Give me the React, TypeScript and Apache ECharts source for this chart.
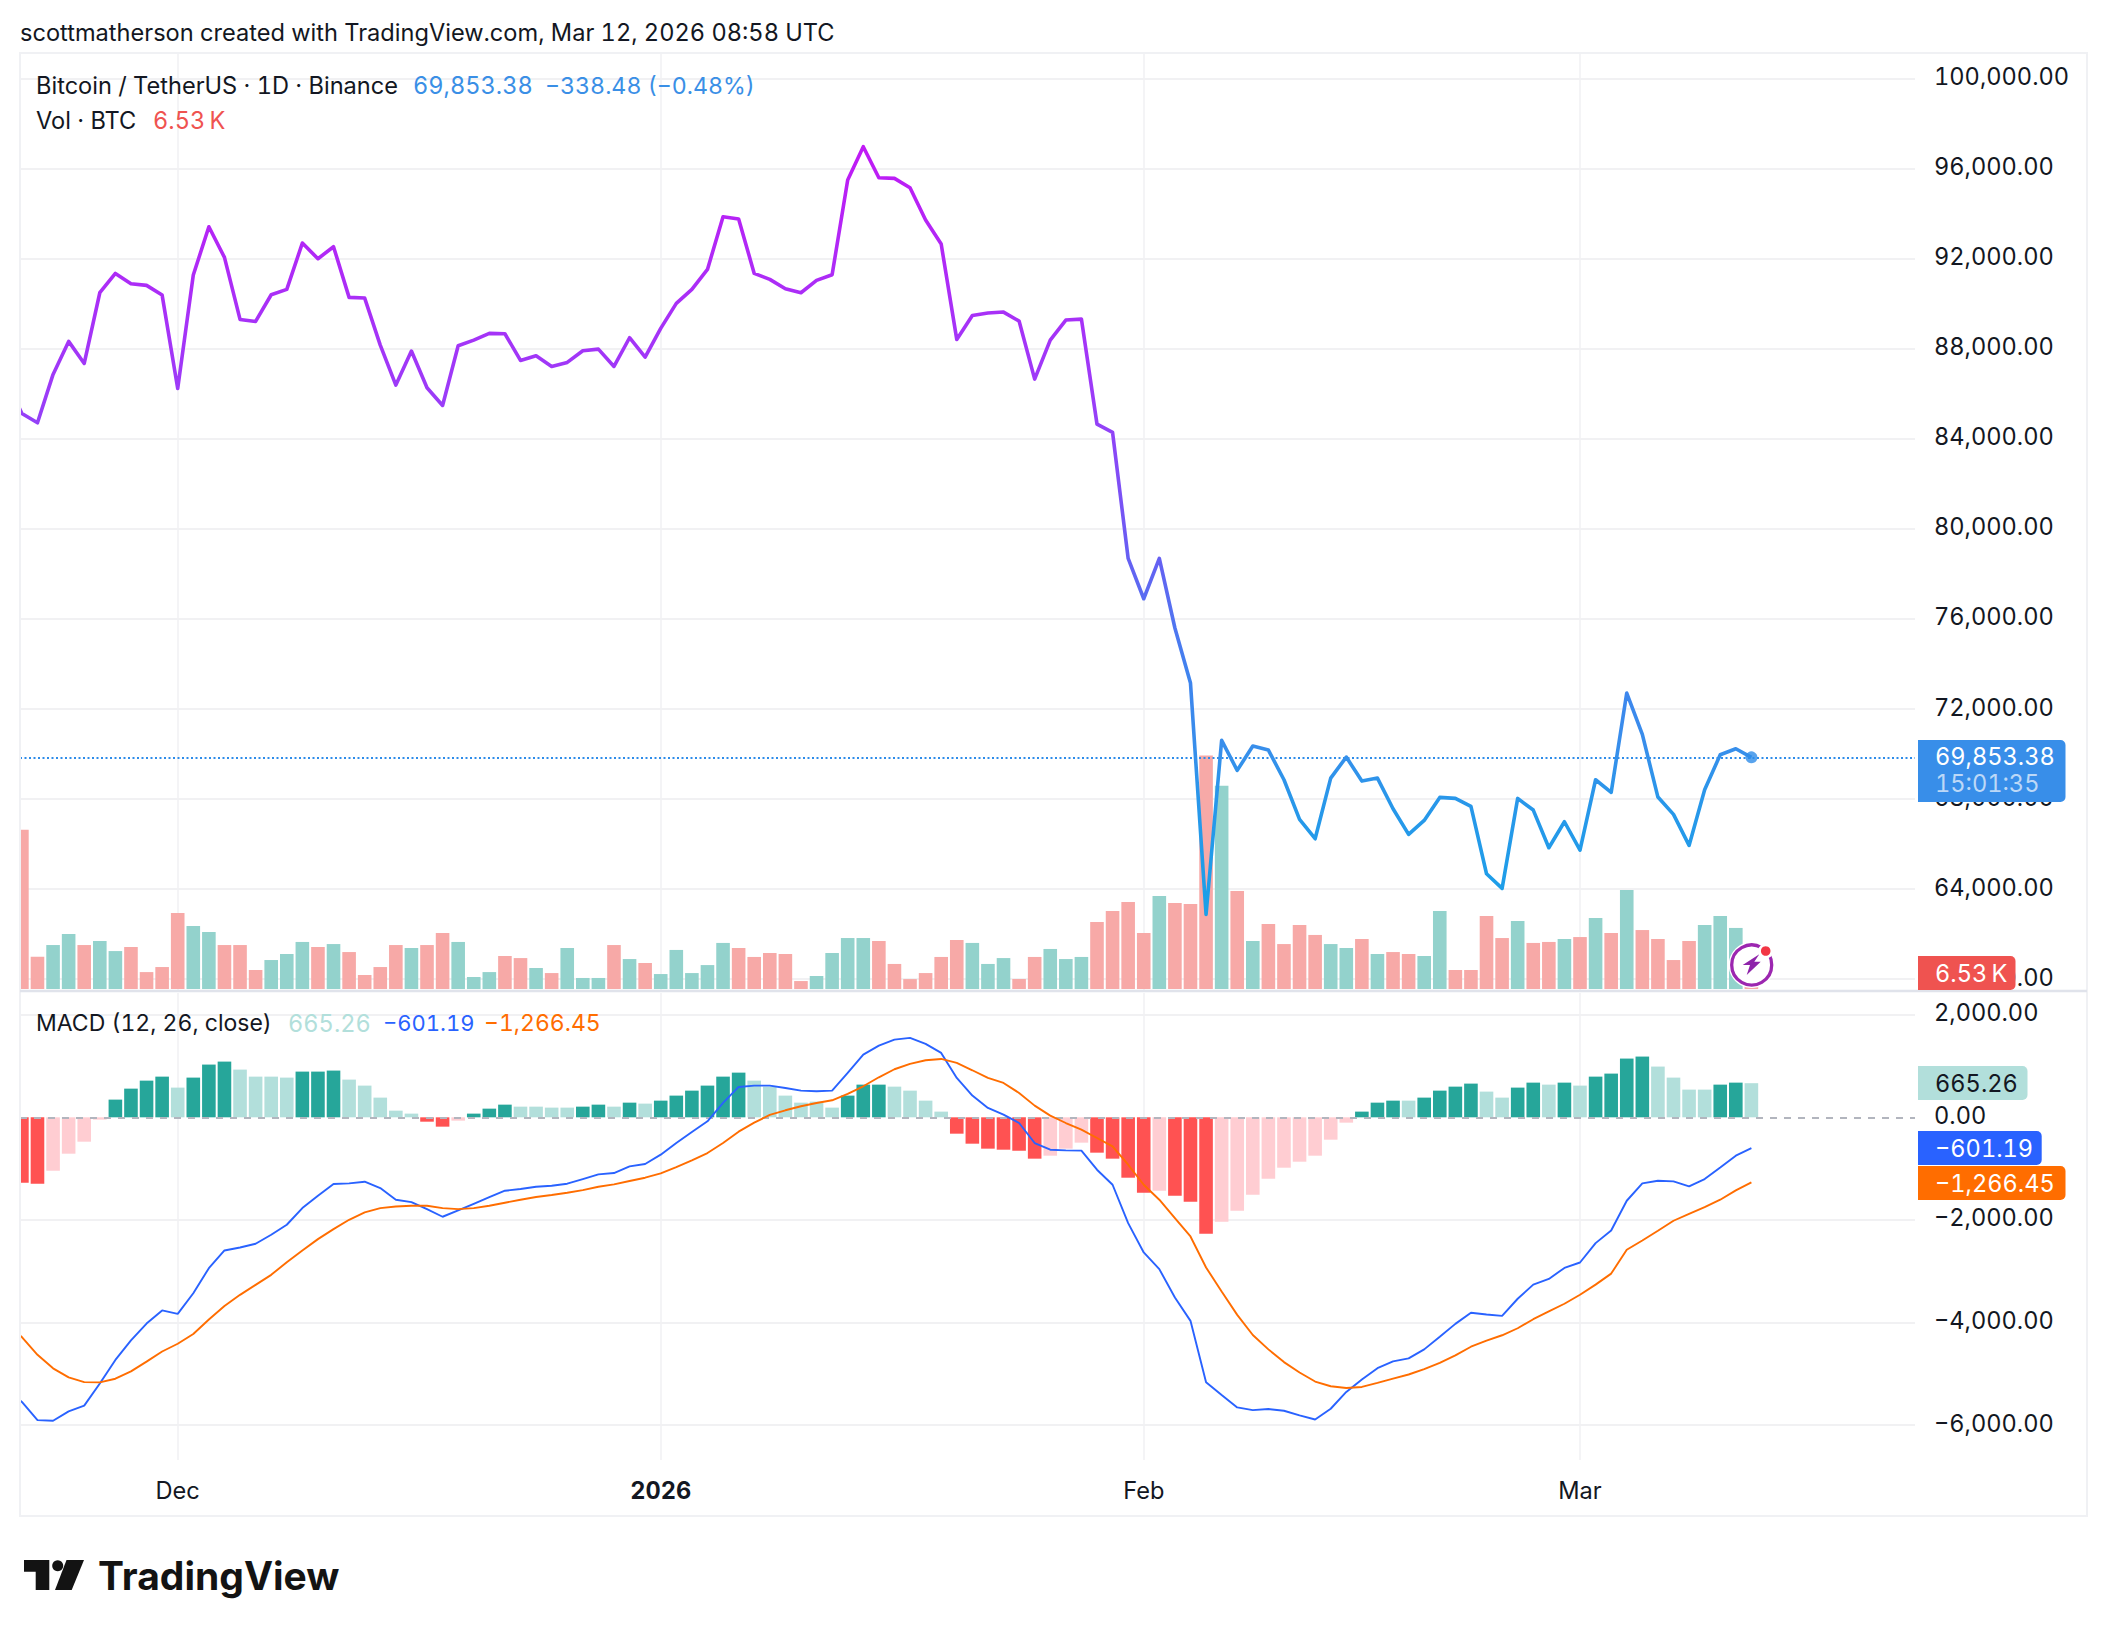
import React, { useEffect, useRef } from "react";
import * as echarts from "echarts";

const headerTitle = "scottmatherson created with TradingView.com, Mar 12, 2026 08:58 UTC";
const xTickDays = [10, 41, 72, 100];
const xTickLabels = ["Dec", "2026", "Feb", "Mar"];
const priceTicks = [60000, 64000, 68000, 72000, 76000, 80000, 84000, 88000, 92000, 96000, 100000];
const macdTicks = [-6000, -4000, -2000, 0, 2000];

// The values of the day just before the visible window (the lines enter from the left edge).
const leadInClose = 86600;
const leadInMacd = -5300;
const leadInSignal = -4050;

const closes = [85131,84716,86864,88330,87352,90492,91351,90892,90818,90388,86241,91277,93424,92062,89307,89218,90403,90640,92698,92003,92536,90285,90255,88167,86390,87901,86271,85486,88137,88389,88685,88670,87486,87693,87219,87397,87915,87989,87219,88493,87634,88907,90018,90640,91529,93869,93765,91351,91085,90670,90492,91040,91292,95498,96979,95601,95572,95157,93720,92654,88419,89485,89589,89633,89233,86656,88389,89278,89322,84656,84286,78690,76900,78690,75600,73155,62877,70608,69275,70356,70178,68860,67098,66239,68934,69867,68801,68934,67572,66431,67053,68075,68031,67676,64684,64032,68031,67513,65839,66994,65735,68860,68297,72711,70874,68090,67320,65943,68416,69971,70238,69853.38];

const volumes = [113.6,23.1,31.4,39.3,31.4,34.3,27.1,30,12.1,15.7,54.3,45,40.7,31.4,31.4,13.6,20.7,25,33.6,30,32.1,26.4,10,15.7,31.4,29.3,31.4,40,33.6,8.6,12.1,23.6,22.1,15,11.4,29.3,7.9,7.9,31.4,21.4,18.6,10.7,27.9,11.4,17.1,32.9,29.3,22.9,25.7,25,5.7,9.3,25.7,36.4,36.4,34.3,17.9,7.1,11.4,22.9,35,32.9,17.9,22.1,7.1,22.9,28.6,21.4,22.9,47.9,55.7,62.1,40,66.4,61.4,60.7,166.7,145,70,34.3,46.4,32.1,45.7,38.6,32.1,29.3,35.7,25,26.4,25,23.6,55.7,13.6,13.6,52.1,36.4,48.6,32.9,33.6,35.7,37.1,50.7,40,70.7,42.1,35.7,20.7,34.3,45.7,52.1,43.6,6.53];
const volumeUp = [0,0,1,1,0,1,1,0,0,0,0,1,1,0,0,0,1,1,1,0,1,0,0,0,0,1,0,0,1,1,1,0,0,1,0,1,1,1,0,1,0,1,1,1,1,1,0,0,0,0,0,1,1,1,1,0,0,0,0,0,0,1,1,1,0,0,1,1,1,0,0,0,0,1,0,0,0,1,0,1,0,0,0,0,1,1,0,1,0,0,1,1,0,0,0,0,1,0,0,1,0,1,0,1,0,0,0,0,1,1,1,0];

const histogram = [-1275,-1294,-1041,-709,-475,-45,345,559,715,793,579,774,1028,1086,930,793,793,774,891,891,911,735,618,384,130,72,-85,-182,-65,72,169,247,208,208,189,189,208,247,208,286,267,325,423,520,618,793,871,715,598,423,286,306,189,423,637,637,598,520,325,111,-319,-514,-611,-631,-650,-806,-748,-611,-494,-689,-806,-1177,-1470,-1431,-1528,-1645,-2270,-2036,-1821,-1509,-1197,-982,-865,-748,-436,-104,111,286,325,325,384,520,598,657,501,384,579,676,637,676,618,793,852,1145,1184,989,774,540,540,637,676,665.26];
const histogramStrong = [1,1,0,0,0,0,1,1,1,1,0,1,1,1,0,0,0,0,1,1,1,0,0,0,0,0,1,1,0,1,1,1,0,0,0,0,1,1,0,1,0,1,1,1,1,1,1,0,0,0,0,0,0,1,1,1,0,0,0,0,1,1,1,1,1,1,0,0,0,1,1,1,1,0,1,1,1,0,0,0,0,0,0,0,0,0,1,1,1,0,1,1,1,1,0,0,1,1,0,1,0,1,1,1,1,0,0,0,0,1,1,0];

const macdLine = [-5547,-5901,-5915,-5731,-5620,-5187,-4728,-4348,-4020,-3764,-3830,-3428,-2940,-2595,-2537,-2465,-2289,-2094,-1769,-1528,-1301,-1288,-1255,-1379,-1606,-1652,-1789,-1938,-1815,-1685,-1554,-1431,-1398,-1353,-1333,-1294,-1203,-1112,-1086,-956,-911,-728,-501,-286,-78,280,592,618,618,572,520,507,520,865,1223,1398,1515,1548,1431,1255,767,423,182,52,-111,-501,-631,-644,-650,-1021,-1314,-2062,-2634,-2959,-3512,-3967,-5163,-5412,-5654,-5706,-5686,-5719,-5810,-5889,-5680,-5353,-5111,-4889,-4758,-4699,-4523,-4275,-4026,-3810,-3843,-3869,-3536,-3261,-3150,-2935,-2830,-2452,-2205,-1626,-1288,-1236,-1249,-1346,-1203,-976,-748,-601.19];
const signalLine = [-4282,-4629,-4892,-5069,-5161,-5167,-5095,-4951,-4761,-4564,-4413,-4223,-3941,-3679,-3460,-3265,-3070,-2823,-2595,-2374,-2179,-1997,-1854,-1769,-1737,-1724,-1724,-1769,-1789,-1769,-1724,-1665,-1606,-1554,-1515,-1470,-1418,-1353,-1307,-1242,-1177,-1093,-969,-839,-696,-501,-280,-104,46,137,215,280,332,455,605,780,937,1041,1112,1138,1060,917,767,670,475,228,33,-111,-241,-403,-566,-924,-1314,-1606,-1964,-2322,-2927,-3395,-3850,-4242,-4523,-4771,-4974,-5150,-5242,-5275,-5255,-5176,-5092,-5013,-4908,-4784,-4640,-4471,-4353,-4248,-4111,-3935,-3784,-3634,-3458,-3261,-3046,-2582,-2400,-2211,-2016,-1880,-1750,-1606,-1424,-1266.45];

const FONT = "Inter, 'Noto Sans', sans-serif";
const INK = "#131722";
const GRID = "#f1f1f3";
const FS = 23.6;

const fmt = (v: number) =>
  v.toLocaleString("en-US", { minimumFractionDigits: 2, maximumFractionDigits: 2 }).replace("-", "\u2212");

function txt(x: number, y: number, text: string, fill = INK, fontSize = FS, extra: any = {}) {
  return { type: "text", x, y, z: 120, silent: true, style: { text, fill, fontSize, fontFamily: FONT, verticalAlign: "middle", align: "left", ...extra } };
}
function badge(y0: number, y1: number, x1: number, fill: string) {
  return { type: "rect", z: 110, silent: true, shape: { x: 1918, y: y0, width: x1 - 1918, height: y1 - y0, r: [0, 5, 5, 0] }, style: { fill } };
}
const gridMark = (values: number[]) => ({
  silent: true, symbol: "none", label: { show: false }, z: 1,
  emphasis: { disabled: true },
  data: [
    ...values.map((v) => ({ yAxis: v, lineStyle: { color: GRID, width: 2, type: "solid" } })),
    ...xTickDays.map((d) => ({ xAxis: d, lineStyle: { color: GRID, width: 1.5, type: "solid" } })),
  ],
});
const withLeadIn = (lead: number, values: number[]) => [[-1, lead], ...values.map((v, i) => [i, v])];

export default function App() {
  const ref = useRef<HTMLDivElement>(null);
  useEffect(() => {
    document.body.style.margin = "0";
    const chart = echarts.init(ref.current!, undefined, { renderer: "svg" });
    const dayAxis = (gridIndex: number, labels: boolean) => ({
      type: "value", gridIndex, min: -0.122, max: 121.5,
      axisLine: { show: false }, axisTick: { show: false },
      splitLine: { show: false },
      axisLabel: labels ? {
        show: true, customValues: xTickDays, margin: 18, fontSize: FS, fontFamily: FONT, color: INK,
        formatter: (v: number) => {
          const l = xTickLabels[xTickDays.indexOf(v)] ?? "";
          return l === "2026" ? `{b|${l}}` : l;
        },
        rich: { b: { fontWeight: 700, fontSize: FS, fontFamily: FONT, color: INK } },
      } : { show: false },
    });
    const priceAxisCommon = {
      position: "right",
      axisLine: { show: false }, axisTick: { show: false }, splitLine: { show: false },
    };
    const labelCommon = { show: true, align: "left", verticalAlign: "bottom", lineHeight: 4, margin: 19, fontSize: FS, fontFamily: FONT, color: INK, formatter: fmt };
    chart.setOption({
      animation: false,
      backgroundColor: "#ffffff",
      grid: [
        { left: 20, top: 53, width: 1895, height: 938 },
        { left: 20, top: 993, width: 1895, height: 467 },
      ],
      xAxis: [dayAxis(0, false), dayAxis(1, true)],
      yAxis: [
        { type: "value", gridIndex: 0, min: 59476, max: 101141, ...priceAxisCommon,
          axisLabel: { ...labelCommon, customValues: priceTicks } },
        { type: "value", gridIndex: 0, min: -1.4, max: 668, show: false, splitLine: { show: false } },
        { type: "value", gridIndex: 1, min: -6679, max: 2423, ...priceAxisCommon,
          axisLabel: { ...labelCommon, customValues: macdTicks } },
      ],
      series: [
        { type: "bar", name: "Volume", xAxisIndex: 0, yAxisIndex: 1, barWidth: 13.6, z: 2, clip: true,
          data: volumes.map((v, i) => ({ value: [i, v], itemStyle: { color: volumeUp[i] ? "#93d2cc" : "#f7a9a7" } })) },
        { type: "line", name: "Close", xAxisIndex: 0, yAxisIndex: 0, showSymbol: false, z: 4, clip: true,
          data: withLeadIn(leadInClose, closes),
          markLine: gridMark(priceTicks),
          lineStyle: { width: 3.6, join: "round", color: { type: "linear", x: 0, y: 0, x2: 0, y2: 1, colorStops: [
            { offset: 0, color: "#c01af5" }, { offset: 0.33, color: "#9b3cf8" }, { offset: 0.52, color: "#6a5cf3" },
            { offset: 0.69, color: "#3f84ee" }, { offset: 0.78, color: "#388eeb" }, { offset: 0.85, color: "#2997ea" }, { offset: 1, color: "#1aa0e8" } ] } } },
        { type: "scatter", name: "Last", xAxisIndex: 0, yAxisIndex: 0, symbolSize: 12, z: 5,
          itemStyle: { color: "#2e8ce9" },
          data: [[closes.length - 1, closes[closes.length - 1]]],
          markLine: { silent: true, symbol: "none", label: { show: false }, z: 3,
            lineStyle: { type: [2, 2.5], width: 2, color: "#2e8ce9" },
            data: [{ yAxis: closes[closes.length - 1] }] } },
        { type: "bar", name: "Histogram", xAxisIndex: 1, yAxisIndex: 2, barWidth: 13.6, z: 2, clip: true,
          data: histogram.map((v, i) => ({ value: [i, v], itemStyle: { color: v >= 0 ? (histogramStrong[i] ? "#26a69a" : "#b2dfdb") : (histogramStrong[i] ? "#ff5252" : "#ffcdd2") } })),
          markLine: { silent: true, symbol: "none", label: { show: false }, z: 3,
            lineStyle: { type: [7, 7], width: 2, color: "#b2b5be" }, data: [{ yAxis: 0 }] } },
        { type: "line", name: "MACD", xAxisIndex: 1, yAxisIndex: 2, showSymbol: false, z: 4, clip: true,
          data: withLeadIn(leadInMacd, macdLine), lineStyle: { width: 1.9, color: "#2962ff" },
          markLine: gridMark(macdTicks.filter((v) => v !== 0)) },
        { type: "line", name: "Signal", xAxisIndex: 1, yAxisIndex: 2, showSymbol: false, z: 4, clip: true,
          data: withLeadIn(leadInSignal, signalLine), lineStyle: { width: 1.9, color: "#ff6d00" } },
      ],
      graphic: [
        { type: "rect", z: 100, silent: true, shape: { x: 0, y: 53, width: 19, height: 1463 }, style: { fill: "#ffffff" } },
        { type: "rect", z: 101, silent: true, shape: { x: 20, y: 53, width: 2067, height: 1463 }, style: { fill: "none", stroke: "#f0f1f4", lineWidth: 2 } },
        { type: "line", z: 102, silent: true, shape: { x1: 20, y1: 991, x2: 2087, y2: 991 }, style: { stroke: "#e0e3eb", lineWidth: 2.4 } },
        txt(20, 32, headerTitle),
        txt(36, 85.5, "Bitcoin / TetherUS \u00b7 1D \u00b7 Binance"),
        txt(413, 85.5, "69,853.38", "#3a8fe6"),
        txt(545, 85.5, "\u2212338.48 (\u22120.48%)", "#3a8fe6", 23.2),
        txt(36, 120, "Vol \u00b7 BTC"),
        txt(153, 120, "6.53\u2009K", "#ef5350"),
        txt(36, 1023, "MACD (12, 26, close)", INK, 23),
        txt(288, 1023, "665.26", "#b2dfdb"),
        txt(383, 1023, "\u2212601.19", "#2962ff", 22),
        txt(484, 1023, "\u22121,266.45", "#ff6d00", 23),
        badge(740, 802, 2065.5, "#388ee9"),
        txt(1935, 756, "69,853.38", "#ffffff"),
        txt(1935, 783.5, "15:01:35", "#bcd8f7"),
        badge(956, 990, 2015.5, "#ef5350"),
        txt(1935, 973, "6.53\u2009K", "#ffffff"),
        badge(1066, 1100, 2027.5, "#b2dfdb"),
        txt(1935, 1083, "665.26", INK),
        badge(1131, 1165, 2041.7, "#2962ff"),
        txt(1935, 1148, "\u2212601.19", "#ffffff"),
        badge(1166, 1200, 2065.5, "#ff6d00"),
        txt(1935, 1183, "\u22121,266.45", "#ffffff"),
        { type: "circle", z: 114, silent: true, shape: { cx: 1751.7, cy: 965, r: 23 }, style: { fill: "#ffffff" } },
        { type: "circle", z: 115, silent: true, shape: { cx: 1751.7, cy: 965, r: 20 }, style: { fill: "#ffffff", stroke: "#9c27b0", lineWidth: 3.3 } },
        { type: "polygon", z: 116, silent: true, shape: { points: [[1759.3, 954.3], [1742.7, 965], [1750, 965], [1746.7, 975], [1760.7, 961.7], [1754.3, 961.7]] }, style: { fill: "#8e24aa" } },
        { type: "circle", z: 117, silent: true, shape: { cx: 1765.7, cy: 951, r: 7.5 }, style: { fill: "#ffffff" } },
        { type: "circle", z: 118, silent: true, shape: { cx: 1765.7, cy: 951, r: 4.8 }, style: { fill: "#f23645" } },
        { type: "polygon", z: 116, silent: true, shape: { points: [[24, 1560], [49.3, 1560], [49.3, 1590], [35.7, 1590], [35.7, 1571.7], [24, 1571.7]] }, style: { fill: "#131313" } },
        { type: "circle", z: 116, silent: true, shape: { cx: 57.7, cy: 1565.7, r: 5.5 }, style: { fill: "#131313" } },
        { type: "polygon", z: 116, silent: true, shape: { points: [[66.5, 1560], [84, 1560], [71.7, 1590], [55, 1590]] }, style: { fill: "#131313" } },
        txt(98, 1575, "TradingView", "#131313", 39, { fontWeight: 700 }),
      ],
    });
    return () => chart.dispose();
  }, []);
  return <div ref={ref} style={{ width: 2108, height: 1636, position: "absolute", left: 0, top: 0, background: "#fff", fontVariantNumeric: "tabular-nums", fontFeatureSettings: '"tnum"' }} />;
}
